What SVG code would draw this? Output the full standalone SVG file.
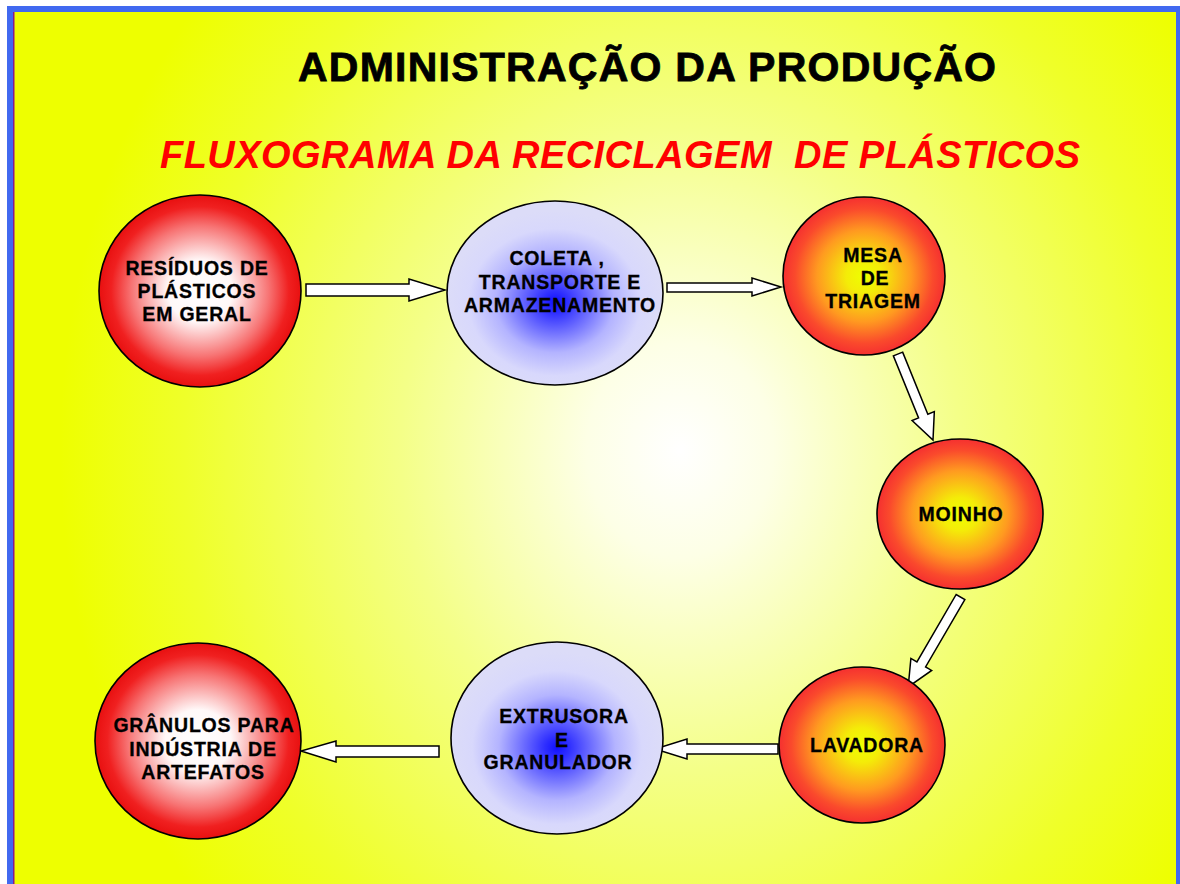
<svg xmlns="http://www.w3.org/2000/svg" width="1180" height="884" viewBox="0 0 1180 884">
<defs>
<radialGradient id="bg" gradientUnits="userSpaceOnUse" cx="680" cy="450" r="620" gradientTransform="translate(680 450) scale(1 1.15) translate(-680 -450)">
<stop offset="0" stop-color="#ffffff"/>
<stop offset="0.15" stop-color="#fdffe6"/>
<stop offset="0.45" stop-color="#f4ff88"/>
<stop offset="0.8" stop-color="#efff2a"/>
<stop offset="1" stop-color="#eeff00"/>
</radialGradient>
<radialGradient id="gRed" cx="0.5" cy="0.5" r="0.5">
<stop offset="0" stop-color="#ffffff"/>
<stop offset="0.32" stop-color="#fff8f8"/>
<stop offset="0.68" stop-color="#f77474"/>
<stop offset="0.88" stop-color="#f02020"/>
<stop offset="1" stop-color="#e81010"/>
</radialGradient>
<radialGradient id="gOrange" cx="0.5" cy="0.5" r="0.5">
<stop offset="0" stop-color="#eeff00"/>
<stop offset="0.22" stop-color="#f4ec08"/>
<stop offset="0.58" stop-color="#ff9a20"/>
<stop offset="0.85" stop-color="#fa4a2c"/>
<stop offset="1" stop-color="#f53030"/>
</radialGradient>
<radialGradient id="gBlue" cx="0.5" cy="0.55" r="0.5">
<stop offset="0" stop-color="#1010ff"/>
<stop offset="0.12" stop-color="#3030ff"/>
<stop offset="0.55" stop-color="#b4b4ff"/>
<stop offset="0.8" stop-color="#d8d8fc"/>
<stop offset="1" stop-color="#dcdcf8"/>
</radialGradient>
<style>
.node { stroke: #000000; stroke-width: 1.6; }
.lbl { font-family: "Liberation Sans", Arial, sans-serif; font-weight: bold; font-size: 19.5px; letter-spacing: 0.8px; fill: #000000; stroke: #000000; stroke-width: 0.3; text-anchor: middle; }
.arrow { fill: #ffffff; stroke: #000000; stroke-width: 1.5; stroke-linejoin: miter; }
.title { font-family: "Liberation Sans", Arial, sans-serif; font-weight: bold; font-size: 41px; fill: #000000; stroke: #000000; stroke-width: 0.8; }
.sub { font-family: "Liberation Sans", Arial, sans-serif; font-weight: bold; font-style: italic; font-size: 38px; fill: #ff0000; }
</style>
</defs>

<rect x="0" y="0" width="1180" height="884" fill="#ffffff"/>
<rect x="7" y="6" width="1173" height="878" fill="#4169f0"/>
<rect x="13" y="12" width="1163" height="872" fill="url(#bg)"/>
<rect x="13" y="12" width="1.5" height="872" fill="#8a1a8a"/>

<g id="titles">
<text class="title" x="298" y="81" textLength="698" lengthAdjust="spacing">ADMINISTRAÇÃO DA PRODUÇÃO</text>
<text class="sub" x="160" y="168" textLength="920" lengthAdjust="spacing" xml:space="preserve">FLUXOGRAMA DA RECICLAGEM  DE PLÁSTICOS</text>
</g>

<g id="connectors">
<polygon class="arrow" points="306,284 409,284 409,279 445,290 409,301 409,296 306,296"/>
<polygon class="arrow" points="667,283 752,283 752,278 781,287 752,296 752,292 667,292"/>
<polygon class="arrow" transform="translate(898,354) rotate(67.9)" points="0,-5 67,-5 67,-12 93,0 67,12 67,5 0,5"/>
<polygon class="arrow" transform="translate(960.5,597) rotate(120.2)" points="0,-5 78,-5 78,-12 104,0 78,12 78,5 0,5"/>
<polygon class="arrow" points="778,744 687,744 687,739 655,749 687,759 687,754 778,754"/>
<polygon class="arrow" points="439,746 336,746 336,741 301,751 336,762 336,757 439,757"/>
</g>

<g id="residuos">
<ellipse class="node" cx="200" cy="291" rx="101" ry="96" fill="url(#gRed)"/>
<text class="lbl" x="197" y="275">RESÍDUOS DE</text>
<text class="lbl" x="197" y="298">PLÁSTICOS</text>
<text class="lbl" x="197" y="321">EM GERAL</text>
</g>

<g id="coleta">
<ellipse class="node" cx="555" cy="293" rx="108" ry="92" fill="url(#gBlue)"/>
<text class="lbl" x="557" y="265">COLETA ,</text>
<text class="lbl" x="560" y="289">TRANSPORTE E</text>
<text class="lbl" x="560" y="312">ARMAZENAMENTO</text>
</g>

<g id="mesa">
<ellipse class="node" cx="864" cy="276" rx="81" ry="79" fill="url(#gOrange)"/>
<text class="lbl" x="873" y="262">MESA</text>
<text class="lbl" x="875" y="285">DE</text>
<text class="lbl" x="873" y="308">TRIAGEM</text>
</g>

<g id="moinho">
<ellipse class="node" cx="960" cy="514" rx="83" ry="75" fill="url(#gOrange)"/>
<text class="lbl" x="961" y="521">MOINHO</text>
</g>

<g id="lavadora">
<ellipse class="node" cx="862" cy="745" rx="83" ry="78" fill="url(#gOrange)"/>
<text class="lbl" x="867" y="752">LAVADORA</text>
</g>

<g id="extrusora">
<ellipse class="node" cx="557" cy="738" rx="106" ry="96" fill="url(#gBlue)"/>
<text class="lbl" x="564" y="723">EXTRUSORA</text>
<text class="lbl" x="562" y="747">E</text>
<text class="lbl" x="558" y="769">GRANULADOR</text>
</g>

<g id="granulos">
<ellipse class="node" cx="198" cy="741" rx="103" ry="98" fill="url(#gRed)"/>
<text class="lbl" x="204" y="732">GRÂNULOS PARA</text>
<text class="lbl" x="203" y="756">INDÚSTRIA DE</text>
<text class="lbl" x="203" y="779">ARTEFATOS</text>
</g>
</svg>
